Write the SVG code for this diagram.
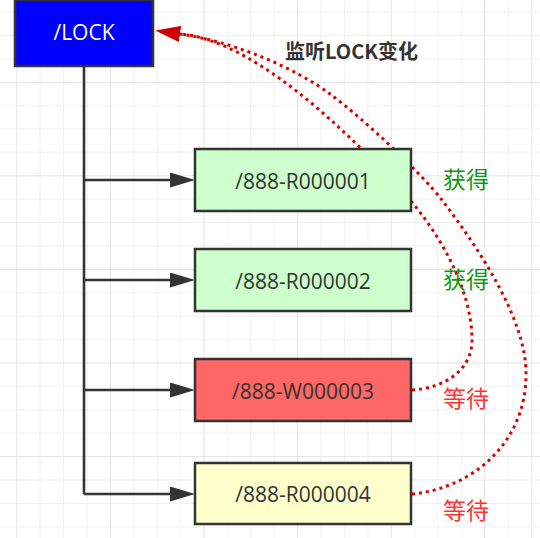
<svg xmlns="http://www.w3.org/2000/svg" width="540" height="538" viewBox="0 0 540 538">
  <defs>
    <pattern id="grid" x="16.3" y="-11.9" width="93.6" height="93.6" patternUnits="userSpaceOnUse">
      <rect x="23.4" y="0" width="1" height="93.6" fill="#f0f0f0"/>
      <rect x="46.8" y="0" width="1" height="93.6" fill="#f0f0f0"/>
      <rect x="70.2" y="0" width="1" height="93.6" fill="#f0f0f0"/>
      <rect x="0" y="23.4" width="93.6" height="1" fill="#f0f0f0"/>
      <rect x="0" y="46.8" width="93.6" height="1" fill="#f0f0f0"/>
      <rect x="0" y="70.2" width="93.6" height="1" fill="#f0f0f0"/>
      <rect x="0" y="0" width="1" height="93.6" fill="#e3e3e3"/>
      <rect x="0" y="0" width="93.6" height="1" fill="#e3e3e3"/>
    </pattern>
    <marker id="blk" viewBox="0 0 25 15" refX="0" refY="7.5" markerWidth="25" markerHeight="15" markerUnits="userSpaceOnUse" orient="auto">
      <path d="M0,0 L25,7.5 L0,15 Z" fill="#333333"/>
    </marker>
    <marker id="red" viewBox="0 0 25 16" refX="0" refY="8" markerWidth="25" markerHeight="16" markerUnits="userSpaceOnUse" orient="auto">
      <path d="M0,0 L25,8 L0,16 Z" fill="#cc0000"/>
    </marker>
  </defs>
  <style>
    .box { stroke: #333333; stroke-width: 2.5; }
    .boxtxt { font-family: "Open Sans", "Noto Sans", sans-serif; font-size: 21px; fill: #333333; text-anchor: middle; }
    .tree { fill: none; stroke: #333333; stroke-width: 2.6; }
    .watch { fill: none; stroke: #d90000; stroke-width: 3; stroke-dasharray: 3 4; }
    .cjk { font-family: "Noto Sans CJK SC", sans-serif; font-size: 23px; }
    .ok { fill: #119911; }
    .wait { fill: #ff3333; }
  </style>

  <rect x="0" y="0" width="540" height="538" fill="#ffffff"/>
  <rect x="0" y="0" width="540" height="538" fill="url(#grid)"/>

  <g id="connectors">
    <path class="tree" d="M84,66 L84,494"/>
    <path class="tree" d="M84,180 L170,180" marker-end="url(#blk)"/>
    <path class="tree" d="M84,280 L170,280" marker-end="url(#blk)"/>
    <path class="tree" d="M84,390 L170,390" marker-end="url(#blk)"/>
    <path class="tree" d="M84,494 L170,494" marker-end="url(#blk)"/>
    <path class="watch" d="M412,390 C445,388 472,370 472,340 C472,290 440,235 410,200 C365,150 260,40 180,34"/>
    <path class="watch" d="M412,494 C475,488 527,440 526,373 C526,320 480,250 442,200 C420,172 365,120 330,94 C295,68 235,42 180,34" marker-end="url(#red)"/>
  </g>

  <g id="node-lock">
    <rect class="box" x="15" y="0" width="138" height="66" fill="#0000ff"/>
    <text class="boxtxt" x="84" y="40" style="fill:#ffffff">/LOCK</text>
  </g>

  <g id="node-r1">
    <rect class="box" x="195" y="149" width="216" height="62" fill="#ccffcc"/>
    <text class="boxtxt" x="303" y="189">/888-R000001</text>
  </g>

  <g id="node-r2">
    <rect class="box" x="195" y="249" width="216" height="62" fill="#ccffcc"/>
    <text class="boxtxt" x="303" y="288.5">/888-R000002</text>
  </g>

  <g id="node-w3">
    <rect class="box" x="195" y="359" width="216" height="62" fill="#ff6666"/>
    <text class="boxtxt" x="303" y="398.5">/888-W000003</text>
  </g>

  <g id="node-r4">
    <rect class="box" x="195" y="463" width="216" height="61" fill="#ffffcc"/>
    <text class="boxtxt" x="303" y="502">/888-R000004</text>
  </g>

  <g id="labels">
    <text x="285" y="58.5" style="font-family:'Noto Sans CJK SC', sans-serif; font-size:20px; font-weight:bold; fill:#333333">监听LOCK变化</text>
    <text class="cjk ok" x="443" y="188">获得</text>
    <text class="cjk ok" x="443" y="288">获得</text>
    <text class="cjk wait" x="443" y="406.5">等待</text>
    <text class="cjk wait" x="443" y="518.5">等待</text>
  </g>
</svg>
